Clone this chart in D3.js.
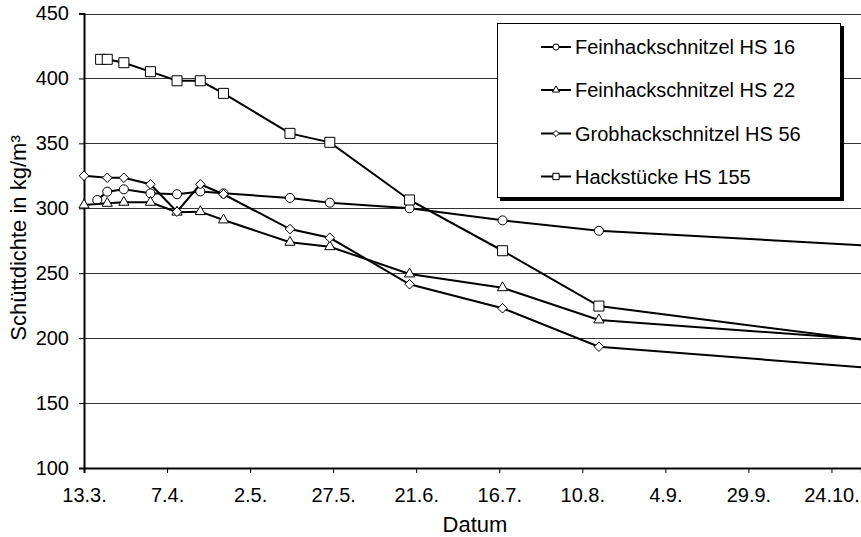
<!DOCTYPE html>
<html lang="de">
<head>
<meta charset="UTF-8">
<title>Schüttdichte</title>
<script src="https://d3js.org/d3.v7.min.js"></script>
<style>
body { margin: 0; background: #fff; }
svg { display: block; }
text { font-family: "Liberation Sans", Arial, sans-serif; fill: #000; }
</style>
</head>
<body>
<div id="chart"></div>
<script>
// data (dates as d.m., year fixed to 2003)
const xTicks = ["13.3.", "7.4.", "2.5.", "27.5.", "21.6.", "16.7.", "10.8.", "4.9.", "29.9.", "24.10."];
const yTicks = [100, 150, 200, 250, 300, 350, 400, 450];

const hs16Dates = ["17.3.", "20.3.", "25.3.", "2.4.", "10.4.", "17.4.", "24.4.", "14.5.", "26.5.", "19.6.", "17.7.", "15.8.", "20.11."];
const hs16Values = [306.4, 312.8, 314.6, 311.5, 310.8, 313, 311.5, 308, 304.3, 300, 290.7, 282.7, 269];

const hs22Dates = ["13.3.", "20.3.", "25.3.", "2.4.", "10.4.", "17.4.", "24.4.", "14.5.", "26.5.", "19.6.", "17.7.", "15.8.", "20.11."];
const hs22Values = [302.5, 303.8, 304.6, 304.6, 297, 297.4, 291, 273.8, 270.4, 249.4, 238.8, 214, 196];

const hs56Dates = ["13.3.", "20.3.", "25.3.", "2.4.", "10.4.", "17.4.", "24.4.", "14.5.", "26.5.", "19.6.", "17.7.", "15.8.", "20.11."];
const hs56Values = [325, 323.5, 323.5, 318.5, 297.4, 318.5, 310.8, 284, 277.3, 241.5, 223, 193.4, 174];

const hs155Dates = ["18.3.", "20.3.", "25.3.", "2.4.", "10.4.", "17.4.", "24.4.", "14.5.", "26.5.", "19.6.", "17.7.", "15.8.", "20.11."];
const hs155Values = [414.7, 414.7, 412.1, 405.2, 398.2, 398.2, 388.5, 357.7, 350.8, 306.4, 267.3, 224.7, 193];

const seriesNames = ["Feinhackschnitzel HS 16", "Feinhackschnitzel HS 22", "Grobhackschnitzel HS 56", "Hackstücke HS 155"];
const seriesSymbols = [d3.symbolCircle, d3.symbolTriangle, d3.symbolDiamond2, d3.symbolSquare];
const symbolSizes = [64, 45, 58, 100];
const legendSymbolSizes = [30, 22, 24, 40];

const parseDay = s => d3.timeParse("%d.%m.%Y")(s + "2003");
const fmt = d3.timeFormat("%-d.%-m.");

const series = [
  { dates: hs16Dates, values: hs16Values },
  { dates: hs22Dates, values: hs22Values },
  { dates: hs56Dates, values: hs56Values },
  { dates: hs155Dates, values: hs155Values }
].map((s, i) => ({
  name: seriesNames[i],
  symbol: seriesSymbols[i],
  size: symbolSizes[i],
  legendSize: legendSymbolSizes[i],
  points: s.dates.map((d, j) => ({ date: parseDay(d), value: s.values[j] }))
}));

const width = 861, height = 537;
const plotLeft = 84, plotTop = 13.5, plotBottom = 468;
const pxPerDay = 3.322;

const start = parseDay("13.3.");
const end = d3.timeDay.offset(start, 234);

const x = d3.scaleTime()
  .domain([start, end])
  .range([plotLeft, plotLeft + 234 * pxPerDay]);

const y = d3.scaleLinear()
  .domain([100, 450])
  .range([plotBottom, plotTop]);

const svg = d3.select("#chart")
  .append("svg")
  .attr("width", width)
  .attr("height", height);

// grid lines
svg.append("g")
  .selectAll("line")
  .data(yTicks.filter(v => v > 100))
  .join("line")
  .attr("x1", plotLeft)
  .attr("x2", width)
  .attr("y1", d => Math.round(y(d)) + 0.5)
  .attr("y2", d => Math.round(y(d)) + 0.5)
  .attr("stroke", "#333")
  .attr("stroke-width", 1);

// y axis
const yAxis = svg.append("g")
  .attr("transform", `translate(${plotLeft},0)`)
  .call(d3.axisLeft(y).tickValues(yTicks).tickSize(5).tickPadding(10));
yAxis.selectAll("text").style("font-size", "20px");

// x axis
const xAxis = svg.append("g")
  .attr("transform", `translate(0,${plotBottom})`)
  .call(d3.axisBottom(x)
    .tickValues(xTicks.map(parseDay))
    .tickFormat(fmt)
    .tickSize(5)
    .tickPadding(15));
xAxis.selectAll("text").style("font-size", "20px");
svg.selectAll(".domain").attr("stroke", "#000").attr("stroke-width", 2);
svg.selectAll(".tick line").attr("stroke", "#000");

// axis titles
svg.append("text")
  .attr("x", 475)
  .attr("y", 532)
  .attr("text-anchor", "middle")
  .style("font-size", "22px")
  .text("Datum");

svg.append("text")
  .attr("transform", "translate(26,238) rotate(-90)")
  .attr("text-anchor", "middle")
  .style("font-size", "22px")
  .text("Schüttdichte in kg/m³");

// lines and markers
svg.append("clipPath")
  .attr("id", "plot")
  .append("rect")
  .attr("x", plotLeft - 10)
  .attr("y", 0)
  .attr("width", width - plotLeft + 10)
  .attr("height", plotBottom);

const plot = svg.append("g").attr("clip-path", "url(#plot)");

const line = d3.line()
  .x(d => x(d.date))
  .y(d => y(d.value));

series.forEach(s => {
  const g = plot.append("g");
  g.append("path")
    .datum(s.points)
    .attr("d", line)
    .attr("fill", "none")
    .attr("stroke", "#000")
    .attr("stroke-width", 2);

  const sym = d3.symbol().type(s.symbol).size(s.size);
  g.selectAll("path.m")
    .data(s.points)
    .join("path")
    .attr("class", "m")
    .attr("transform", d => `translate(${x(d.date)},${y(d.value)})`)
    .attr("d", sym)
    .attr("fill", "#fff")
    .attr("stroke", "#000")
    .attr("stroke-width", 1);
});

// legend
const lg = svg.append("g");
lg.append("rect")
  .attr("x", 500).attr("y", 26)
  .attr("width", 344).attr("height", 175)
  .attr("fill", "#000");
lg.append("rect")
  .attr("x", 497.5).attr("y", 23.5)
  .attr("width", 343).attr("height", 174)
  .attr("fill", "#fff")
  .attr("stroke", "#000")
  .attr("stroke-width", 1);

const legendY = [47, 90, 133.5, 176.5];
series.forEach((s, i) => {
  const ly = legendY[i];
  lg.append("line")
    .attr("x1", 541).attr("x2", 571)
    .attr("y1", ly).attr("y2", ly)
    .attr("stroke", "#000")
    .attr("stroke-width", 2);
  lg.append("path")
    .attr("transform", `translate(556,${ly})`)
    .attr("d", d3.symbol().type(s.symbol).size(s.legendSize))
    .attr("fill", "#fff")
    .attr("stroke", "#000")
    .attr("stroke-width", 1);
  lg.append("text")
    .attr("x", 575)
    .attr("y", ly)
    .attr("dy", "0.35em")
    .style("font-size", "20px")
    .text(s.name);
});
</script>
</body>
</html>
